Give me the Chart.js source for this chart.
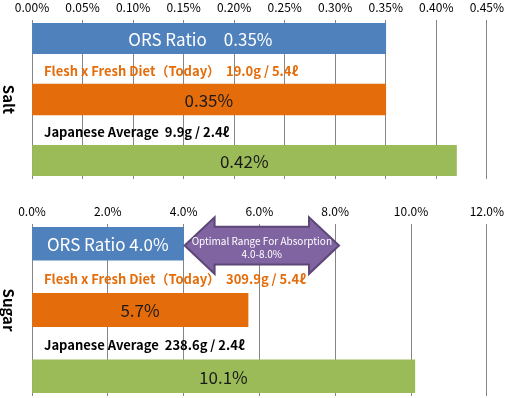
<!DOCTYPE html>
<html>
<head>
<meta charset="utf-8">
<script src="https://cdn.jsdelivr.net/npm/chart.js@4"></script>
<style>
  html, body { margin: 0; padding: 0; background: #fff; }
  #wrap { position: relative; width: 509px; height: 398px; }
  .box { position: absolute; left: 0; width: 509px; }
</style>
</head>
<body>
<div id="wrap">
  <div class="box" style="top:0;height:195px"><canvas id="saltChart" width="509" height="195"></canvas></div>
  <div class="box" style="top:195px;height:203px"><canvas id="sugarChart" width="509" height="203"></canvas></div>
</div>
<script>
// series
const categories = ['ORS Ratio', 'Flesh x Fresh Diet（Today）', 'Japanese Average'];
const barColors = ['#4F81BD', '#E46C0A', '#9BBB59'];
const nameColors = ['#FFFFFF', '#E46C0A', '#000000'];
const saltValues = [0.35, 0.35, 0.42];
const sugarValues = [4.0, 5.7, 10.1];
const saltAmounts = ['', '19.0g / 5.4ℓ', '9.9g / 2.4ℓ'];
const sugarAmounts = ['', '309.9g / 5.4ℓ', '238.6g / 2.4ℓ'];
// axis ticks: min, max, step, decimals
const saltAxis = [0, 0.45, 0.05, 2];
const sugarAxis = [0, 12, 2, 1];
const optimalRange = [4.0, 8.0];
const arrowSpan = [4.0, 8.1];

const FONT = "'Noto Sans CJK JP', 'Noto Sans', sans-serif";
const GRID = '#868686';

const overlay = {
  id: 'overlay',
  afterDatasetsDraw(chart, args, o) {
    const ctx = chart.ctx;
    const xs = chart.scales.x, ys = chart.scales.y;
    const area = chart.chartArea;
    ctx.save();

    // axis title, rotated clockwise
    ctx.translate(9, (area.top + area.bottom) / 2);
    ctx.rotate(Math.PI / 2);
    ctx.font = 'bold 15px ' + FONT;
    ctx.fillStyle = '#000';
    ctx.textAlign = 'center';
    ctx.textBaseline = 'middle';
    ctx.fillText(o.title, 0, 0);
    ctx.setTransform(1, 0, 0, 1, 0, 0);

    // labels inside bars
    o.values.forEach((v, i) => {
      const cy = ys.getPixelForValue(i * 2);
      const x0 = xs.getPixelForValue(0), x1 = xs.getPixelForValue(v);
      let txt = v.toFixed(o.digits) + '%';
      if (i === 0) txt = categories[0] + o.sep + txt + o.tail;
      ctx.font = '17px ' + FONT;
      ctx.fillStyle = i === 0 ? '#fff' : '#1a1a1a';
      ctx.textAlign = 'center';
      ctx.textBaseline = 'middle';
      ctx.fillText(txt, (x0 + x1) / 2, cy + 1);
    });

    // labels in the gap rows
    for (let i = 1; i < categories.length; i++) {
      const cy = ys.getPixelForValue(i * 2 - 1);
      ctx.font = 'bold 13px ' + FONT;
      ctx.fillStyle = nameColors[i];
      ctx.textAlign = 'left';
      ctx.textBaseline = 'middle';
      ctx.fillText(categories[i] + '  ' + o.amounts[i], xs.getPixelForValue(0) + 12, cy + 2);
    }

    // optimal range arrow
    if (o.arrow) {
      const l = xs.getPixelForValue(arrowSpan[0]) + 1;
      const r = xs.getPixelForValue(arrowSpan[1]);
      const rowH = Math.abs(ys.getPixelForValue(1) - ys.getPixelForValue(0));
      const cy = ys.getPixelForValue(0) + 2;
      const hh = rowH * 0.85, bh = rowH * 0.57, head = 30;
      ctx.beginPath();
      ctx.moveTo(l, cy);
      ctx.lineTo(l + head, cy - hh);
      ctx.lineTo(l + head, cy - bh);
      ctx.lineTo(r - head, cy - bh);
      ctx.lineTo(r - head, cy - hh);
      ctx.lineTo(r, cy);
      ctx.lineTo(r - head, cy + hh);
      ctx.lineTo(r - head, cy + bh);
      ctx.lineTo(l + head, cy + bh);
      ctx.lineTo(l + head, cy + hh);
      ctx.closePath();
      ctx.fillStyle = '#8064A2';
      ctx.fill();
      ctx.strokeStyle = '#5C4776';
      ctx.lineWidth = 2;
      ctx.stroke();
      ctx.fillStyle = '#fff';
      ctx.font = '10px ' + FONT;
      ctx.textAlign = 'center';
      ctx.textBaseline = 'middle';
      const mx = (l + r) / 2;
      ctx.fillText('Optimal Range For Absorption', mx, cy - 4);
      ctx.fillText(optimalRange[0].toFixed(1) + '-' + optimalRange[1].toFixed(1) + '%', mx, cy + 9);
    }
    ctx.restore();
  }
};

function makeChart(id, values, amounts, axis, extra) {
  const data = [], colors = [];
  values.forEach((v, i) => {
    if (i) { data.push(null); colors.push('transparent'); }
    data.push(v);
    colors.push(barColors[i]);
  });
  const [mn, mx, step, digits] = axis;
  return new Chart(document.getElementById(id), {
    type: 'bar',
    data: {
      labels: data.map((_, i) => String(i)),
      datasets: [{
        data: data,
        backgroundColor: colors,
        borderWidth: 0,
        barPercentage: 1,
        categoryPercentage: 1
      }]
    },
    plugins: [overlay],
    options: {
      indexAxis: 'y',
      responsive: false,
      animation: false,
      layout: { padding: { top: extra.padTop, right: 19, bottom: extra.padBottom, left: 0 } },
      plugins: {
        legend: { display: false },
        tooltip: { enabled: false },
        overlay: Object.assign({ values: values, amounts: amounts, digits: digits }, extra)
      },
      scales: {
        x: {
          type: 'linear',
          position: 'top',
          min: mn, max: mx,
          ticks: {
            stepSize: step,
            autoSkip: false,
            maxRotation: 0,
            padding: 5,
            color: '#000',
            font: { family: FONT, size: 12 },
            callback: v => v.toFixed(digits) + '%'
          },
          grid: { color: GRID, tickLength: 3, drawTicks: true },
          border: { display: false },
          afterFit: s => { s.height = 23; }
        },
        x2: {
          type: 'linear',
          position: 'bottom',
          min: mn, max: mx,
          ticks: { display: false, stepSize: step },
          grid: { color: GRID, tickLength: 3, drawOnChartArea: false },
          border: { display: false },
          afterFit: s => { s.height = 3; }
        },
        y: {
          type: 'category',
          ticks: { display: false },
          grid: { display: false },
          border: { display: true, color: GRID },
          afterFit: s => { s.width = 32; }
        }
      }
    }
  });
}

makeChart('saltChart', saltValues, saltAmounts, saltAxis,
  { title: 'Salt', sep: '　', tail: '　', arrow: false, padTop: 0, padBottom: 16 });
makeChart('sugarChart', sugarValues, sugarAmounts, sugarAxis,
  { title: 'Sugar', sep: ' ', tail: '', arrow: true, padTop: 9, padBottom: 2 });
</script>
</body>
</html>
